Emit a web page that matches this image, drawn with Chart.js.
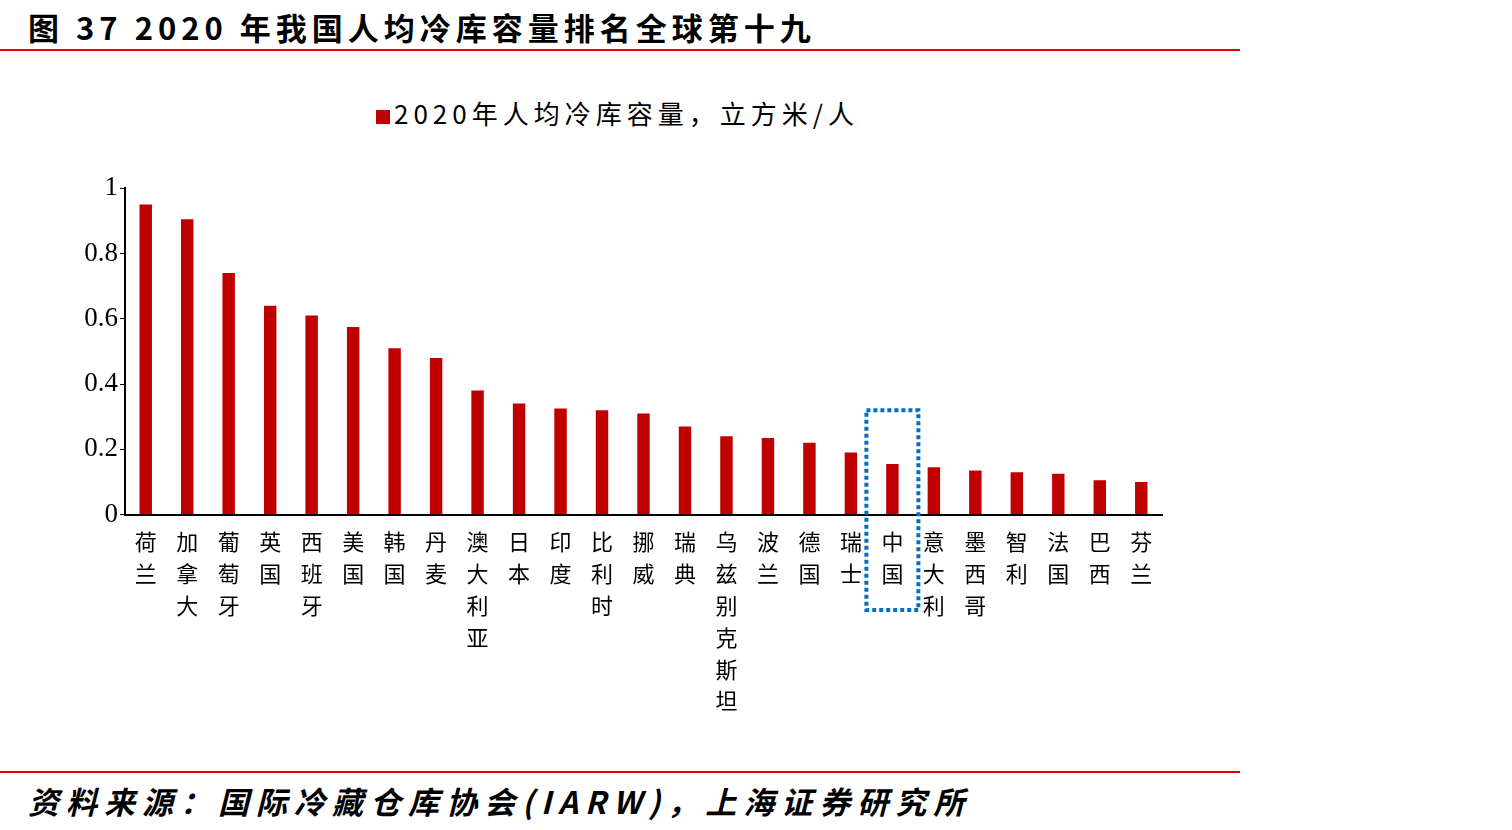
<!DOCTYPE html>
<html>
<head>
<meta charset="utf-8">
<script src="https://cdn.jsdelivr.net/npm/chart.js@4"></script>
<style>
body { margin: 0; width: 1512px; height: 830px; background: #fff; position: relative; font-family: "Noto Sans CJK SC", sans-serif; overflow: hidden; }
#title { position: absolute; left: 28px; top: 4px; font-size: 31px; font-weight: bold; color: #000; letter-spacing: 5px; }
.redline { position: absolute; left: 0; width: 1240px; height: 2px; background: #e00000; }
#legend { position: absolute; left: 376px; top: 94px; font-size: 26px; color: #000; letter-spacing: 5px; }
#legend span { display: inline-block; width: 14px; height: 14px; background: #c00000; margin-right: 4px; }
#source { position: absolute; left: 28px; top: 778px; font-size: 31px; font-style: italic; font-weight: bold; color: #000; letter-spacing: 7px; }
#wrap { position: absolute; left: 58px; top: 170px; width: 1140px; height: 550px; }
</style>
</head>
<body>
<div id="title">图 37 2020 年我国人均冷库容量排名全球第十九</div>
<div class="redline" style="top:49px"></div>
<div id="legend"><span></span>2020年人均冷库容量，立方米/人</div>
<div id="wrap"><canvas id="myChart"></canvas></div>
<div class="redline" style="top:771px"></div>
<div id="source">资料来源：国际冷藏仓库协会(IARW)，上海证券研究所</div>
<script>
const countries = ['荷兰', '加拿大', '葡萄牙', '英国', '西班牙', '美国', '韩国', '丹麦', '澳大利亚', '日本', '印度', '比利时', '挪威', '瑞典', '乌兹别克斯坦', '波兰', '德国', '瑞士', '中国', '意大利', '墨西哥', '智利', '法国', '巴西', '芬兰'];
const capacity = [0.95, 0.905, 0.74, 0.64, 0.61, 0.575, 0.51, 0.48, 0.38, 0.34, 0.325, 0.32, 0.31, 0.27, 0.24, 0.235, 0.22, 0.19, 0.155, 0.145, 0.135, 0.13, 0.125, 0.105, 0.10];
const yTicks = [0, 0.1, 0.2, 0.3, 0.4, 0.5, 0.6, 0.7, 0.8, 0.9, 1];
const chinaIndex = countries.indexOf('中国');

const boxPlugin = {
    id: 'chinaBox',
    afterDraw(chart) {
        const ctx = chart.ctx;
        const x = chart.scales.x.getPixelForValue(chinaIndex);
        const top = chart.scales.y.getPixelForValue(0.32);
        ctx.save();
        ctx.strokeStyle = '#0070c0';
        ctx.lineWidth = 4;
        ctx.setLineDash([4, 3]);
        ctx.strokeRect(x - 26, top, 52, 610 - 170 - top);
        ctx.restore();
    }
};

new Chart(document.getElementById('myChart'), {
    type: 'bar',
    data: {
        labels: countries.map(c => c.split('')),
        datasets: [{
            label: '2020年人均冷库容量，立方米/人',
            data: capacity,
            backgroundColor: '#c00000',
            categoryPercentage: 1,
            barPercentage: 0.3
        }]
    },
    options: {
        responsive: true,
        maintainAspectRatio: false,
        animation: false,
        layout: { padding: { top: 18, right: 36 } },
        plugins: { legend: { display: false }, tooltip: { enabled: false } },
        scales: {
            x: {
                grid: { display: false },
                border: { color: '#000', width: 2 },
                ticks: {
                    color: '#000', maxRotation: 0, minRotation: 0, autoSkip: false,
                    font: { family: 'Noto Sans CJK SC', size: 22, lineHeight: 1.45 }
                }
            },
            y: {
                min: 0, max: 1,
                afterFit(scale) { scale.width = 67; },
                afterBuildTicks(scale) { scale.ticks = yTicks.map(v => ({ value: v })); },
                grid: { drawOnChartArea: false, tickLength: 5, color: '#000' },
                border: { color: '#000', width: 2 },
                ticks: {
                    color: '#000', padding: 2,
                    font: { family: 'Liberation Serif', size: 27 },
                    callback: v => String(Math.round(v * 10) / 10)
                }
            }
        }
    },
    plugins: [boxPlugin]
});
</script>
</body>
</html>
